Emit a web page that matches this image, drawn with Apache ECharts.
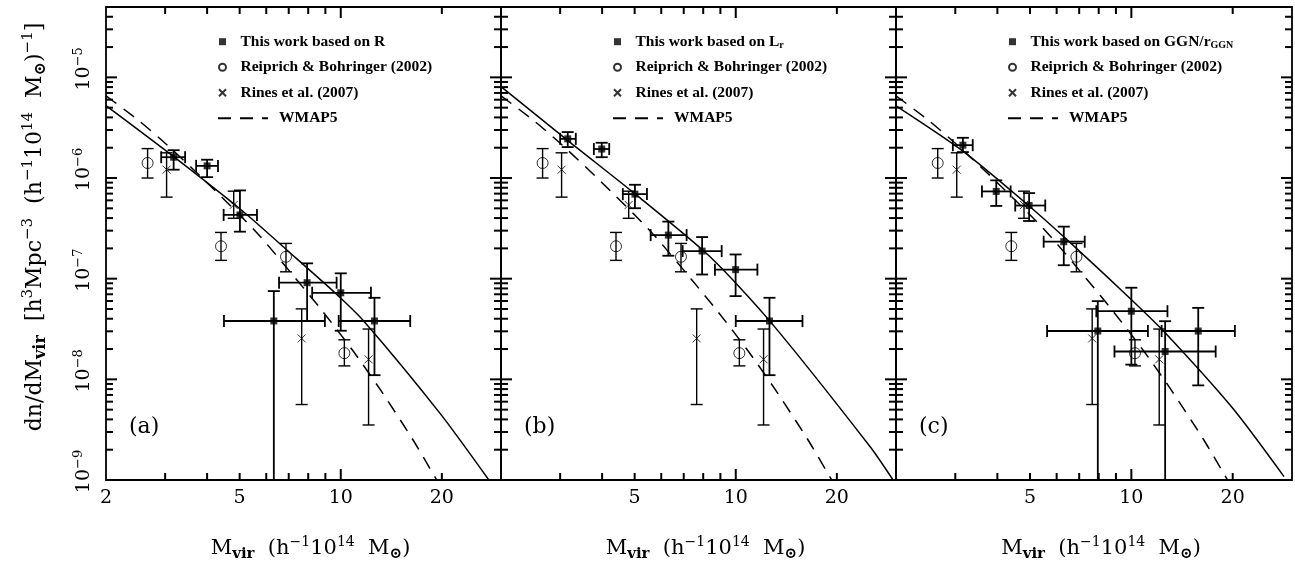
<!DOCTYPE html>
<html>
<head>
<meta charset="utf-8">
<script src="https://cdn.jsdelivr.net/npm/echarts@6/dist/echarts.min.js"></script>
<style>
html, body { margin: 0; padding: 0; background: #fff; }
#main { width: 1295px; height: 565px; }
</style>
</head>
<body>
<div id="main"></div>
<script type="text/javascript">
var chart = echarts.init(document.getElementById('main'));

var X_MIN = 2, X_MAX = 30, Y_MIN = 1e-9, Y_MAX = 5e-5;

// tick labels and tick marks
var X_LABELS_A = [2, 5, 10, 20];
var X_LABELS_BC = [5, 10, 20];
var X_MAJOR = [10];
var X_MINOR = [3, 4, 5, 6, 7, 8, 9, 20];
var Y_MAJOR = [1e-8, 1e-7, 1e-6, 1e-5];
var Y_MINOR = [];
[1e-9, 1e-8, 1e-7, 1e-6, 1e-5].forEach(function (d) {
  [2, 3, 4, 5, 6, 7, 8, 9].forEach(function (m) { if (m * d < Y_MAX) Y_MINOR.push(m * d); });
});

// Reiprich & Bohringer (2002) - same in every panel
var rbX   = [2.66, 4.40, 6.87, 10.25];
var rbY   = [1.41e-6, 2.10e-7, 1.65e-7, 1.82e-8];
var rbYlo = [1.00e-6, 1.52e-7, 1.17e-7, 1.36e-8];
var rbYhi = [1.96e-6, 2.88e-7, 2.24e-7, 2.47e-8];

// Rines et al. (2007)
var rnX   = [3.03, 4.80, 7.65, 12.1];
var rnY   = [1.21e-6, 5.4e-7, 2.55e-8, 1.58e-8];
var rnYlo = [6.46e-7, 3.98e-7, 5.62e-9, 3.52e-9];
var rnYhi = [1.78e-6, 7.4e-7, 5.01e-8, 3.16e-8];

// this work, panel (a): based on R   (ylo 0 = no lower limit)
var aX   = [3.18, 4.00, 5.01, 6.32, 7.94, 10.0, 12.6];
var aY   = [1.61e-6, 1.32e-6, 4.30e-7, 3.80e-8, 9.12e-8, 7.24e-8, 3.80e-8];
var aXlo = [2.92, 3.71, 4.48, 4.49, 6.55, 8.22, 9.86];
var aXhi = [3.44, 4.31, 5.63, 8.97, 9.72, 12.3, 16.1];
var aYlo = [1.21e-6, 1.02e-6, 2.93e-7, 0, 3.80e-8, 3.04e-8, 1.10e-8];
var aYhi = [1.89e-6, 1.52e-6, 7.53e-7, 7.53e-8, 1.42e-7, 1.13e-7, 6.46e-8];

// panel (b): based on L_r
var bX   = [3.16, 3.99, 5.01, 6.30, 7.94, 9.99, 12.6];
var bY   = [2.45e-6, 1.94e-6, 6.92e-7, 2.71e-7, 1.88e-7, 1.23e-7, 3.80e-8];
var bXlo = [3.00, 3.78, 4.61, 5.58, 6.95, 8.67, 10.0];
var bXhi = [3.34, 4.20, 5.44, 7.14, 9.08, 11.6, 15.8];
var bYlo = [2.03e-6, 1.61e-6, 5.01e-7, 1.69e-7, 1.10e-7, 6.71e-8, 1.10e-8];
var bYhi = [2.86e-6, 2.24e-6, 8.57e-7, 3.69e-7, 2.59e-7, 1.74e-7, 6.46e-8];

// panel (c): based on GGN/r_GGN
var cX   = [3.16, 3.97, 4.97, 6.30, 7.95, 10.0, 12.6, 15.8];
var cY   = [2.12e-6, 7.36e-7, 5.33e-7, 2.33e-7, 3.02e-8, 4.75e-8, 1.89e-8, 3.02e-8];
var cXlo = [2.95, 3.60, 4.52, 5.49, 5.62, 7.87, 8.91, 12.3];
var cXhi = [3.38, 4.38, 5.55, 7.27, 11.2, 12.8, 17.8, 20.3];
var cYlo = [1.81e-6, 5.28e-7, 3.74e-7, 1.36e-7, 0, 1.40e-8, 0, 8.71e-9];
var cYhi = [2.51e-6, 9.48e-7, 7.08e-7, 3.29e-7, 5.98e-8, 8.13e-8, 3.78e-8, 5.13e-8];

// fitted mass functions (solid)
var fitAX = [2.0, 3.16, 5.11, 7.39, 9.61, 11.7, 19.7, 27.6];
var fitAY = [5.25e-6, 1.66e-6, 4.68e-7, 1.58e-7, 7.24e-8, 3.80e-8, 4.64e-9, 1.0e-9];
var fitBX = [2.0, 3.17, 5.11, 8.37, 12.6, 25.1, 29.4];
var fitBY = [8.1e-6, 2.34e-6, 6.61e-7, 1.66e-7, 3.83e-8, 2.15e-9, 1.0e-9];
var fitCX = [2.0, 3.16, 4.99, 6.87, 10.06, 12.6, 19.95, 28.4];
var fitCY = [5.21e-6, 1.85e-6, 5.21e-7, 2.0e-7, 6.07e-8, 2.9e-8, 5.21e-9, 1.08e-9];

// WMAP5 prediction (dashed)
var wmX = [2.0, 2.51, 3.03, 3.97, 5.59, 7.35, 8.87, 10.9, 13.1, 16.4, 19.3];
var wmY = [6.56e-6, 3.69e-6, 2.15e-6, 9.2e-7, 2.93e-7, 1.0e-7, 4.65e-8, 1.9e-8, 7.94e-9, 2.51e-9, 1.0e-9];

var PANEL_LEFT = [106, 501, 896];
var PANEL_WIDTH = [395, 395, 396];
var WORK_NAMES = ['This work based on R', 'This work based on L_r', 'This work based on GGN/r_GGN'];
var LETTERS = ['(a)', '(b)', '(c)'];

var SERIF = 'DejaVu Serif';
var LEG_FONT = 'Liberation Serif';

function pairs(xs, ys) {
  return xs.map(function (x, i) { return [x, ys[i]]; });
}
// rows: [x, y, xlo, xhi, ylo, yhi]
function errRows(xs, ys, xlo, xhi, ylo, yhi) {
  return xs.map(function (x, i) {
    return [x, ys[i], xlo ? xlo[i] : x, xhi ? xhi[i] : x, ylo[i], yhi[i]];
  });
}

function errRenderer(lw, cap) {
  return function (params, api) {
    var x = api.value(0), y = api.value(1);
    var xlo = api.value(2), xhi = api.value(3), ylo = api.value(4), yhi = api.value(5);
    var st = { stroke: '#000', lineWidth: lw };
    var c = api.coord([x, y]);
    var t = api.coord([x, yhi]);
    var b = api.coord([x, ylo > 0 ? ylo : Y_MIN]);
    var ch = [
      { type: 'line', shape: { x1: c[0], y1: t[1], x2: c[0], y2: b[1] }, style: st },
      { type: 'line', shape: { x1: c[0] - cap, y1: t[1], x2: c[0] + cap, y2: t[1] }, style: st }
    ];
    if (ylo > 0) ch.push({ type: 'line', shape: { x1: c[0] - cap, y1: b[1], x2: c[0] + cap, y2: b[1] }, style: st });
    if (xhi > xlo) {
      var l = api.coord([xlo, y]), r = api.coord([xhi, y]);
      ch.push(
        { type: 'line', shape: { x1: l[0], y1: c[1], x2: r[0], y2: c[1] }, style: st },
        { type: 'line', shape: { x1: l[0], y1: c[1] - cap, x2: l[0], y2: c[1] + cap }, style: st },
        { type: 'line', shape: { x1: r[0], y1: c[1] - cap, x2: r[0], y2: c[1] + cap }, style: st }
      );
    }
    return { type: 'group', children: ch };
  };
}

function supSub(size) {
  return {
    sub: { fontFamily: SERIF, fontWeight: 'bold', fontSize: size - 6, lineHeight: 16, padding: [11, 0, 0, 0], color: '#000' },
    sup: { fontFamily: SERIF, fontSize: size - 7, lineHeight: 14, padding: [0, 0, 13, 0], color: '#000' }
  };
}

var legendText = {
  fontFamily: LEG_FONT, fontWeight: 'bold', fontSize: 15.5, color: '#000', lineHeight: 20,
  rich: {
    sub: { fontFamily: LEG_FONT, fontWeight: 'bold', fontSize: 10, lineHeight: 12, padding: [8, 0, 0, 0], color: '#000' },
    w: { fontFamily: LEG_FONT, fontWeight: 'bold', fontSize: 15.5, lineHeight: 20, padding: [0, 0, 0, 6], color: '#000' }
  }
};
function legendFmt(name) {
  if (name === 'This work based on L_r') return 'This work based on L{sub|r}';
  if (name === 'This work based on GGN/r_GGN') return 'This work based on GGN/r{sub|GGN}';
  if (name === 'WMAP5') return '{w|WMAP5}';
  return name;
}

var work = [
  { x: aX, y: aY, xlo: aXlo, xhi: aXhi, ylo: aYlo, yhi: aYhi, fx: fitAX, fy: fitAY },
  { x: bX, y: bY, xlo: bXlo, xhi: bXhi, ylo: bYlo, yhi: bYhi, fx: fitBX, fy: fitBY },
  { x: cX, y: cY, xlo: cXlo, xhi: cXhi, ylo: cYlo, yhi: cYhi, fx: fitCX, fy: fitCY }
];

var SQUARE = 'path://M0,0H10V10H0Z';
var grids = [], xAxes = [], yAxes = [], series = [], legends = [], titles = [];

for (var i = 0; i < 3; i++) {
  var dx = PANEL_LEFT[i] - PANEL_LEFT[0];
  grids.push({
    left: PANEL_LEFT[i], top: 7, width: PANEL_WIDTH[i], height: 473,
    show: true, borderColor: '#000', borderWidth: 1.8, backgroundColor: 'transparent',
    outerBoundsMode: 'none'
  });
  xAxes.push({
    type: 'log', logBase: 10, gridIndex: i, min: X_MIN, max: X_MAX,
    axisLine: { show: false }, axisTick: { show: false }, splitLine: { show: false },
    axisLabel: {
      customValues: i === 0 ? X_LABELS_A : X_LABELS_BC,
      margin: 9, fontFamily: SERIF, fontSize: 19, color: '#000',
      formatter: function (v) { return String(Math.round(v)); }
    },
    name: 'M{sub|vir}  (h{sup|\u22121}10{sup|14}  M{sub|\u2299})',
    nameLocation: 'middle', nameGap: 55,
    nameTextStyle: { fontFamily: SERIF, fontSize: 21, color: '#000', lineHeight: 27, padding: [0, 0, 0, 14], rich: supSub(21) }
  });
  var yAx = {
    type: 'log', logBase: 10, gridIndex: i, min: Y_MIN, max: Y_MAX,
    axisLine: { show: false }, axisTick: { show: false }, splitLine: { show: false },
    axisLabel: { show: false }
  };
  if (i === 0) {
    yAx.axisLabel = {
      show: true, rotate: 90, margin: 10,
      formatter: function (v) {
        var e = Math.log10(v);
        if (Math.abs(e - Math.round(e)) > 1e-6) return '';
        return '{b|10}{s|\u2212' + (-Math.round(e)) + '}';
      },
      rich: {
        b: { fontFamily: SERIF, fontSize: 19, lineHeight: 24, padding: [0, 0, 0, 17], color: '#000' },
        s: { fontFamily: SERIF, fontSize: 13, lineHeight: 13, padding: [0, 0, 11, 0], color: '#000' }
      }
    };
    yAx.name = 'dn/dM{sub|vir}  [h{sup|3}Mpc{sup|\u22123}  (h{sup|\u22121}10{sup|14}  M{sub|\u2299}){sup|\u22121}]';
    yAx.nameLocation = 'middle';
    yAx.nameRotate = 90;
    yAx.nameGap = 57;
    yAx.nameTextStyle = { fontFamily: SERIF, fontSize: 22, color: '#000', lineHeight: 28, padding: [0, 0, 0, 33], rich: supSub(22) };
  }
  yAxes.push(yAx);

  var w = work[i];
  series.push({
    type: 'custom', xAxisIndex: i, yAxisIndex: i, silent: true, z: 3, clip: true,
    encode: { x: 0, y: 1 }, renderItem: errRenderer(1.4, 6),
    data: errRows(rbX, rbY, null, null, rbYlo, rbYhi).concat(errRows(rnX, rnY, null, null, rnYlo, rnYhi))
  });
  series.push({
    type: 'custom', xAxisIndex: i, yAxisIndex: i, silent: true, z: 3, clip: true,
    encode: { x: 0, y: 1 }, renderItem: errRenderer(1.8, 6),
    data: errRows(w.x, w.y, w.xlo, w.xhi, w.ylo, w.yhi)
  });

  series.push({
    name: 'fit ' + i, type: 'line', xAxisIndex: i, yAxisIndex: i, z: 4,
    data: pairs(w.fx, w.fy), smooth: 0.25, symbol: 'none', showSymbol: false,
    itemStyle: { color: '#000' },
    lineStyle: { color: '#000', width: 1.5 }
  });
  series.push({
    name: 'WMAP5', type: 'line', xAxisIndex: i, yAxisIndex: i, z: 4,
    data: pairs(wmX, wmY), smooth: 0.25, symbol: 'none', showSymbol: false,
    itemStyle: { color: '#000' },
    lineStyle: { color: '#000', width: 1.5, type: [13, 9] }
  });

  series.push({
    name: WORK_NAMES[i], type: 'scatter', xAxisIndex: i, yAxisIndex: i, z: 5,
    symbol: 'rect', symbolSize: 7, data: pairs(w.x, w.y),
    itemStyle: { color: '#000' }
  });
  series.push({
    name: 'Reiprich & Bohringer (2002)', type: 'scatter', xAxisIndex: i, yAxisIndex: i, z: 5,
    symbol: 'circle', symbolSize: 11, data: pairs(rbX, rbY),
    itemStyle: { color: 'rgba(0,0,0,0)', borderColor: '#000', borderWidth: 1 }
  });
  series.push({
    name: 'Rines et al. (2007)', type: 'scatter', xAxisIndex: i, yAxisIndex: i, z: 5,
    symbol: 'path://M0,0L10,10M10,0L0,10', symbolSize: 8, data: pairs(rnX, rnY),
    itemStyle: { color: 'rgba(0,0,0,0)', borderColor: '#000', borderWidth: 1 }
  });

  legends.push({
    left: 218 + dx, top: 31.7, orient: 'vertical', padding: 0,
    itemWidth: 26, itemHeight: 7, itemGap: 5.5, selectedMode: false,
    data: [{ name: WORK_NAMES[i], icon: SQUARE }, 'Reiprich & Bohringer (2002)', 'Rines et al. (2007)'],
    formatter: legendFmt, textStyle: legendText
  });
  legends.push({
    left: 217 + dx, top: 108.3, orient: 'vertical', padding: 0,
    itemWidth: 50, itemHeight: 7, selectedMode: false,
    itemStyle: { color: 'rgba(0,0,0,0)', borderColor: 'rgba(0,0,0,0)', borderWidth: 0 },
    data: ['WMAP5'], formatter: legendFmt, textStyle: legendText
  });

  titles.push({
    text: LETTERS[i], left: 129 + dx, top: 416, padding: 0,
    textStyle: { fontFamily: SERIF, fontSize: 22, fontWeight: 'normal', color: '#000' }
  });
}

var option = {
  backgroundColor: '#fff',
  animation: false,
  title: titles,
  legend: legends,
  grid: grids,
  xAxis: xAxes,
  yAxis: yAxes,
  series: series
};

chart.setOption(option);

// inward frame ticks, placed through each panel's own axes
var tickEls = [];
function tickLine(x1, y1, x2, y2) {
  tickEls.push({
    type: 'line', silent: true, z: 100,
    shape: { x1: x1, y1: y1, x2: x2, y2: y2 },
    style: { stroke: '#000', lineWidth: 2 }
  });
}
for (var g = 0; g < 3; g++) {
  var finder = { gridIndex: g };
  [[X_MINOR, 7], [X_MAJOR, 11]].forEach(function (set) {
    set[0].forEach(function (v) {
      var pb = chart.convertToPixel(finder, [v, Y_MIN]);
      var pt = chart.convertToPixel(finder, [v, Y_MAX]);
      tickLine(pb[0], pb[1], pb[0], pb[1] - set[1]);
      tickLine(pt[0], pt[1], pt[0], pt[1] + set[1]);
    });
  });
  [[Y_MINOR, 7], [Y_MAJOR, 11]].forEach(function (set) {
    set[0].forEach(function (v) {
      var pl = chart.convertToPixel(finder, [X_MIN, v]);
      var pr = chart.convertToPixel(finder, [X_MAX, v]);
      tickLine(pl[0], pl[1], pl[0] + set[1], pl[1]);
      tickLine(pr[0], pr[1], pr[0] - set[1], pr[1]);
    });
  });
}
chart.setOption({ graphic: tickEls });
</script>
</body>
</html>
